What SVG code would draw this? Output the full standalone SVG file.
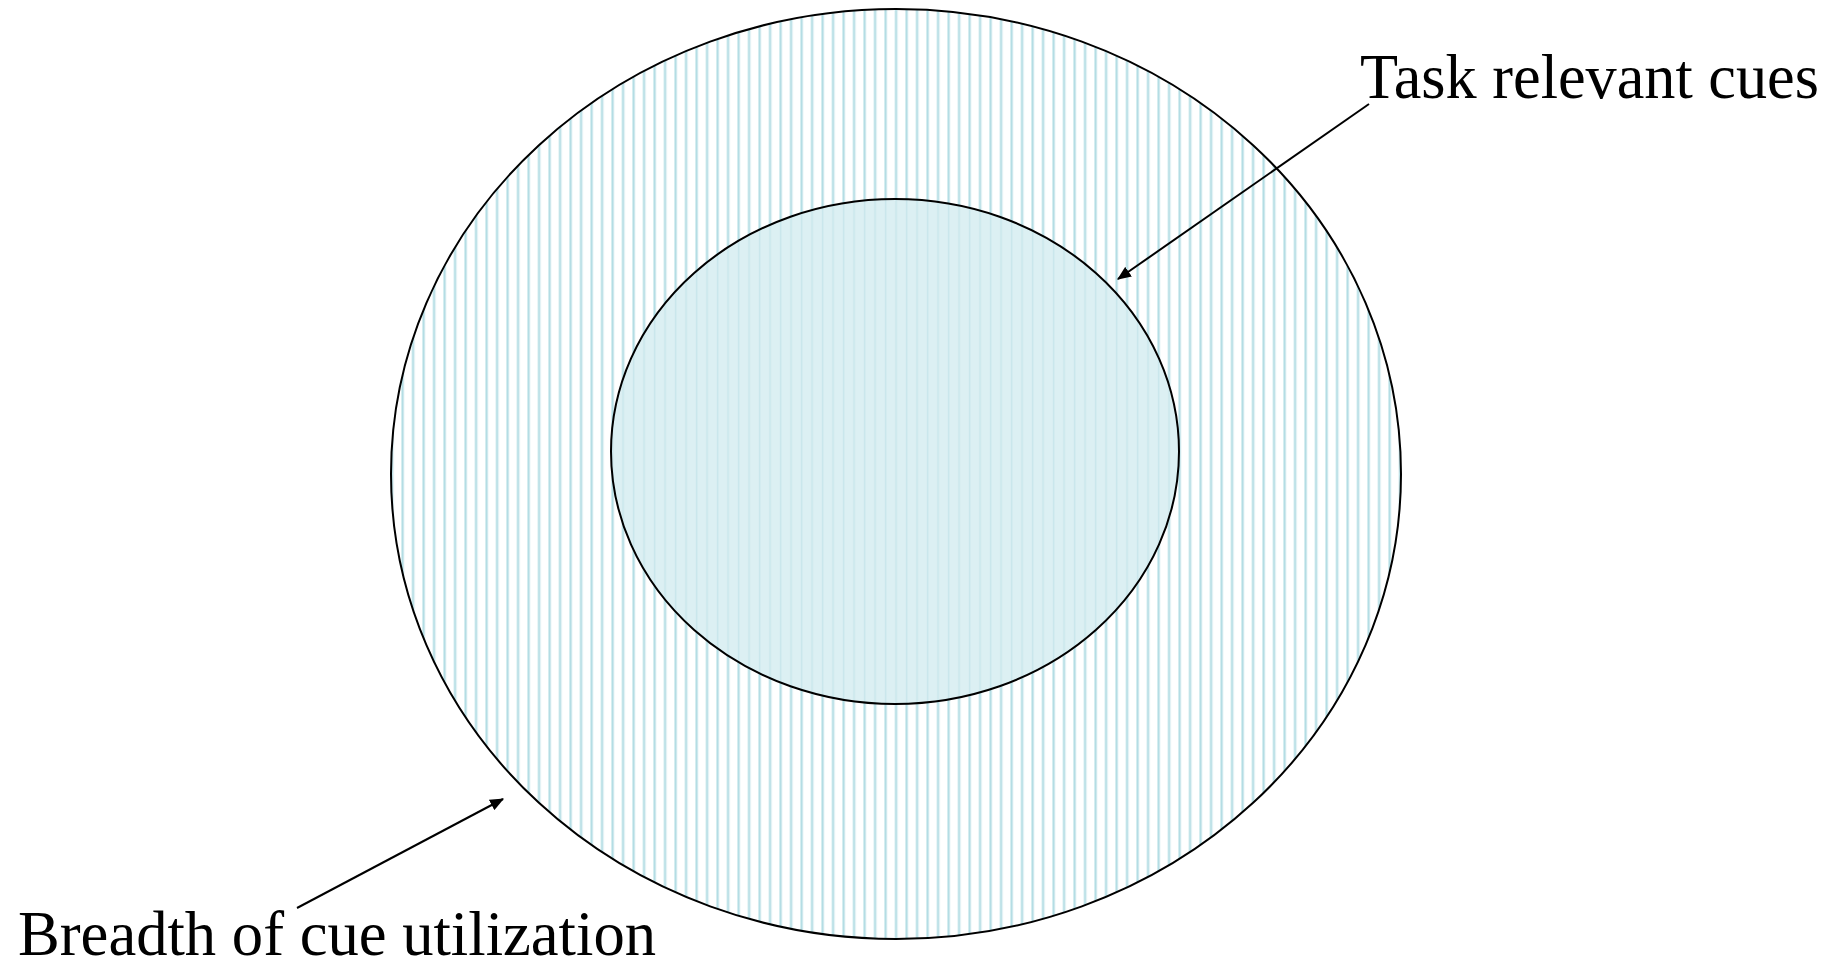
<svg xmlns="http://www.w3.org/2000/svg" width="1846" height="970" viewBox="0 0 1846 970">
<style>
.lbl{font-family:"Liberation Serif","Times New Roman",serif;font-size:63px;fill:#000}
.edge{fill:none;stroke:#000;stroke-width:2}
.conn{stroke:#000;stroke-width:2;fill:none}
</style>
<defs>
<pattern id="stripes" patternUnits="userSpaceOnUse" x="2" y="0" width="10.5" height="10">
<rect x="0" y="0" width="3.2" height="10" fill="#d9eef1"/>
<rect x="0.9" y="0" width="1.4" height="10" fill="#b2dce3"/>
</pattern>
<marker id="arrow" viewBox="0 0 12 10" refX="11" refY="5" markerWidth="14" markerHeight="12" orient="auto" markerUnits="userSpaceOnUse">
<path d="M0,0 L12,5 L0,10 z" fill="#000"/>
</marker>
</defs>
<rect width="1846" height="970" fill="#fff"/>
<g id="outer">
<ellipse cx="896" cy="474" rx="505" ry="465" fill="#fff"/>
<ellipse cx="896" cy="474" rx="505" ry="465" fill="url(#stripes)"/>
<ellipse cx="896" cy="474" rx="505" ry="465" class="edge"/>
</g>
<g id="inner">
<ellipse cx="895" cy="451.5" rx="284" ry="252.5" fill="#dcf0f3"/>
<ellipse cx="895" cy="451.5" rx="284" ry="252.5" fill="url(#stripes)" opacity="0.45"/>
<ellipse cx="895" cy="451.5" rx="284" ry="252.5" class="edge"/>
</g>
<g id="connectors">
<line x1="1369" y1="104" x2="1118" y2="279" class="conn" marker-end="url(#arrow)"/>
<line x1="297" y1="908" x2="503" y2="799" class="conn" marker-end="url(#arrow)"/>
</g>
<g id="label-task">
<text class="lbl" x="1360" y="98" textLength="459" lengthAdjust="spacingAndGlyphs">Task relevant cues</text>
</g>
<g id="label-breadth">
<text class="lbl" x="18" y="955" textLength="638" lengthAdjust="spacingAndGlyphs">Breadth of cue utilization</text>
</g>
</svg>
